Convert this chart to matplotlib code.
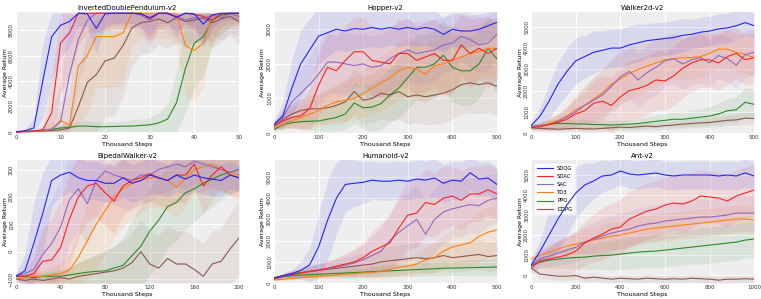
import numpy as np
import matplotlib
matplotlib.use('Agg')
import matplotlib.pyplot as plt

algos = ['SDQG', 'SDAC', 'SAC', 'TD3', 'PPO', 'DDPG']
colors = ['#2424f5', '#f52424', '#9467bd', '#ff7f0e', '#2a8a2a', '#8c564b']

# ---- InvertedDoublePendulum-v2 (x: 0..50) ----
idp_x = np.arange(0, 51, 2)
idp_mean = [
    [0, 80, 300, 4000, 7500, 8400, 8700, 9350, 9300, 8150, 9300, 9350, 9350, 9350, 9300, 9000, 9350, 9350, 9050, 9350, 9300, 8500, 9200, 9350, 9350, 9350],
    [0, 20, 50, 150, 1500, 7000, 7800, 9350, 9350, 9350, 9350, 9350, 9350, 9350, 9350, 8900, 9350, 9350, 9000, 9350, 9250, 9100, 8800, 9300, 9350, 9350],
    [0, 20, 60, 120, 200, 800, 4500, 7300, 8800, 9350, 9350, 9350, 9350, 9350, 9200, 8800, 9350, 9300, 9100, 8800, 9000, 8900, 9200, 9000, 9300, 9100],
    [0, 10, 30, 80, 200, 900, 500, 5200, 6000, 7500, 7500, 7500, 7800, 9350, 9350, 9350, 9350, 9350, 9300, 6800, 6400, 7000, 9100, 9300, 9350, 9350],
    [0, 30, 60, 100, 200, 300, 350, 450, 450, 400, 400, 420, 450, 450, 500, 550, 700, 1000, 2300, 5000, 7000, 7500, 8800, 9200, 9300, 9350],
    [0, 10, 30, 60, 100, 150, 300, 2000, 3900, 4500, 5600, 5800, 6800, 8200, 8600, 8700, 8900, 8600, 9000, 8700, 8800, 9000, 8600, 8900, 9100, 8700],
]
idp_sd = [
    [0, 100, 800, 3000, 3500, 2500, 2000, 1000, 1000, 2000, 1000, 800, 800, 800, 1000, 1500, 800, 800, 1200, 800, 1000, 1800, 1000, 600, 500, 500],
    [0, 50, 100, 300, 2500, 4000, 3500, 2500, 1500, 1500, 1200, 1000, 1000, 1000, 1200, 1800, 1200, 1000, 1500, 1000, 1200, 1500, 1800, 1000, 800, 800],
    [0, 50, 100, 300, 1500, 3000, 4500, 3500, 2500, 1500, 1500, 1200, 1200, 1200, 1500, 2000, 1200, 1500, 1800, 2000, 1800, 2000, 1500, 1800, 1500, 1500],
    [0, 50, 100, 200, 600, 1500, 2500, 4500, 4500, 4000, 4000, 4000, 4000, 2500, 2000, 2000, 2000, 2000, 2500, 4000, 4000, 3500, 2000, 1500, 1200, 1000],
    [0, 50, 80, 100, 200, 300, 300, 400, 400, 400, 400, 400, 400, 500, 500, 600, 800, 1200, 2500, 3500, 3500, 3000, 2000, 1500, 1000, 800],
    [0, 30, 50, 100, 150, 300, 500, 2500, 4000, 4500, 4500, 4500, 4000, 3000, 2500, 2500, 2000, 2000, 2000, 2000, 1800, 1800, 2000, 1800, 1500, 1800],
]

# ---- Hopper-v2 (x: 0..500) ----
hop_x = np.arange(0, 501, 20)
hop_mean = [
    [250, 500, 1300, 2000, 2400, 2800, 2900, 3000, 2950, 3020, 3000, 3050, 3000, 3050, 3000, 3050, 3000, 3050, 3000, 2850, 3000, 2950, 2950, 3000, 3100, 3200],
    [200, 350, 450, 500, 700, 1380, 1900, 1800, 2100, 2350, 2350, 2100, 2050, 2000, 2300, 2300, 2100, 2200, 2300, 2100, 2100, 2550, 2300, 2450, 2300, 2450],
    [250, 450, 900, 1150, 1400, 1700, 2050, 2050, 2000, 1950, 2000, 1900, 1950, 2150, 2300, 2400, 2300, 2350, 2400, 2550, 2600, 2800, 2700, 2550, 2600, 2850],
    [150, 250, 350, 450, 550, 650, 800, 900, 950, 1000, 1150, 1300, 1450, 1600, 1800, 1900, 1850, 1700, 1950, 2000, 2100, 2200, 2300, 2350, 2450, 2450],
    [100, 250, 300, 330, 340, 350, 400, 450, 550, 870, 730, 750, 850, 1100, 1300, 1600, 1900, 1900, 2000, 2250, 1900, 1800, 1800, 2000, 2450, 2150],
    [200, 400, 550, 650, 700, 700, 730, 800, 900, 1200, 950, 1000, 1150, 1100, 1200, 1050, 1100, 1050, 1100, 1150, 1250, 1400, 1450, 1400, 1450, 1350],
]
hop_sd = [
    [100, 400, 800, 1000, 900, 800, 700, 600, 600, 600, 550, 550, 550, 500, 500, 500, 500, 500, 550, 500, 500, 500, 450, 450, 400, 350],
    [100, 200, 300, 400, 600, 900, 1000, 1000, 1000, 1000, 1000, 1000, 1000, 1000, 1000, 1000, 1000, 1000, 1000, 1000, 1000, 900, 1000, 900, 1000, 900],
    [100, 250, 500, 700, 800, 900, 900, 900, 900, 900, 900, 900, 900, 900, 900, 900, 900, 900, 900, 800, 800, 700, 800, 800, 800, 700],
    [80, 150, 200, 300, 400, 450, 500, 550, 600, 650, 700, 750, 800, 800, 850, 850, 850, 850, 850, 850, 850, 850, 800, 800, 800, 800],
    [50, 100, 150, 200, 250, 300, 350, 400, 450, 600, 600, 700, 750, 800, 850, 900, 950, 950, 1000, 1000, 1000, 1000, 1000, 1000, 950, 1000],
    [100, 200, 300, 350, 400, 450, 500, 550, 600, 650, 700, 700, 750, 750, 800, 800, 800, 800, 850, 850, 850, 850, 850, 850, 850, 850],
]

# ---- Walker2d-v2 (x: 0..500) ----
wlk_x = np.arange(0, 501, 20)
wlk_mean = [
    [350, 800, 1500, 2300, 2900, 3400, 3600, 3800, 3900, 4000, 4000, 4150, 4250, 4350, 4400, 4450, 4500, 4600, 4650, 4750, 4800, 4900, 4950, 5050, 5200, 5050],
    [250, 300, 400, 500, 650, 900, 1050, 1400, 1500, 1300, 1700, 2000, 2100, 2250, 2500, 2450, 2700, 3050, 3300, 3450, 3450, 3300, 3600, 3750, 3450, 3550],
    [300, 350, 400, 550, 750, 1000, 1300, 1550, 1800, 2200, 2650, 2900, 2500, 2850, 3100, 3400, 3500, 3250, 3450, 3550, 3300, 3650, 3500, 3200, 3700, 3800],
    [300, 350, 450, 600, 800, 1100, 1300, 1600, 1900, 2300, 2550, 2800, 3000, 3150, 3300, 3450, 3500, 3550, 3550, 3600, 3750, 3950, 3950, 3800, 3700, 3550],
    [300, 350, 420, 450, 450, 430, 420, 400, 400, 380, 400, 420, 450, 500, 550, 600, 650, 650, 700, 750, 800, 900, 1050, 1100, 1450, 1350],
    [250, 220, 200, 180, 200, 220, 200, 190, 220, 250, 280, 260, 300, 330, 300, 350, 380, 420, 450, 480, 500, 550, 600, 620, 700, 680],
]
wlk_sd = [
    [100, 400, 800, 1000, 1100, 1100, 1000, 1000, 900, 900, 900, 900, 900, 800, 800, 800, 800, 800, 700, 700, 700, 700, 700, 700, 600, 600],
    [100, 150, 250, 350, 500, 700, 900, 1100, 1200, 1300, 1300, 1400, 1400, 1400, 1400, 1400, 1400, 1400, 1300, 1300, 1300, 1300, 1300, 1200, 1200, 1200],
    [100, 150, 250, 350, 500, 700, 900, 1100, 1200, 1200, 1300, 1300, 1300, 1300, 1300, 1200, 1200, 1200, 1200, 1200, 1100, 1100, 1100, 1100, 1100, 1100],
    [100, 150, 250, 350, 500, 700, 900, 1000, 1100, 1200, 1200, 1200, 1200, 1100, 1100, 1100, 1000, 1000, 1000, 1000, 900, 900, 900, 900, 900, 900],
    [100, 150, 200, 200, 200, 200, 200, 200, 200, 200, 200, 200, 250, 250, 300, 300, 350, 350, 400, 400, 450, 500, 550, 600, 700, 700],
    [100, 100, 100, 100, 100, 120, 120, 120, 130, 140, 150, 150, 160, 170, 170, 180, 190, 200, 210, 220, 230, 240, 250, 260, 280, 280],
]

# ---- BipedalWalker-v2 (x: 0..200) ----
bpw_x = np.arange(0, 201, 8)
bpw_mean = [
    [-90, -70, 30, 140, 260, 280, 290, 270, 260, 260, 250, 250, 270, 250, 260, 280, 270, 260, 280, 265, 280, 270, 265, 260, 280, 270],
    [-90, -90, -80, -35, -30, 15, 120, 200, 240, 250, 215, 185, 240, 260, 270, 285, 270, 260, 280, 280, 320, 240, 280, 310, 280, 270],
    [-90, -80, -65, -10, 30, 90, 190, 230, 175, 260, 295, 280, 270, 260, 280, 280, 300, 310, 320, 310, 330, 320, 310, 300, 290, 300],
    [-100, -95, -90, -90, -85, -80, -68, -20, 40, 100, 150, 200, 230, 250, 260, 270, 270, 260, 235, 270, 300, 310, 320, 300, 290, 280],
    [-90, -90, -95, -90, -90, -90, -85, -80, -75, -72, -70, -60, -50, -15, 20, 75, 115, 165, 180, 215, 230, 250, 265, 280, 290, 300],
    [-100, -105, -100, -105, -100, -95, -100, -90, -85, -80, -75, -70, -60, -40, 0, -45, -60, -25, -45, -45, -65, -90, -45, -35, 10, 50],
]
bpw_sd = [
    [10, 60, 150, 150, 90, 80, 70, 70, 70, 70, 70, 70, 70, 70, 70, 70, 60, 60, 60, 60, 60, 60, 60, 60, 50, 50],
    [10, 20, 60, 120, 150, 170, 170, 150, 130, 120, 120, 120, 110, 100, 100, 100, 100, 100, 100, 100, 90, 100, 90, 80, 80, 80],
    [10, 30, 80, 140, 160, 170, 160, 150, 150, 130, 110, 110, 110, 110, 100, 100, 90, 90, 80, 80, 80, 80, 80, 80, 80, 80],
    [10, 15, 20, 20, 30, 40, 60, 100, 140, 160, 160, 150, 140, 130, 120, 110, 110, 110, 110, 100, 90, 90, 80, 80, 80, 80],
    [10, 10, 15, 15, 20, 20, 30, 40, 50, 60, 70, 80, 100, 130, 150, 160, 160, 150, 140, 130, 120, 110, 100, 90, 80, 70],
    [10, 15, 20, 20, 25, 30, 40, 50, 60, 70, 80, 90, 100, 110, 120, 120, 120, 120, 120, 120, 120, 120, 120, 120, 130, 140],
]

# ---- Humanoid-v2 (x: 0..500) ----
hum_x = np.arange(0, 501, 20)
hum_mean = [
    [250, 350, 450, 600, 860, 1700, 2950, 4000, 4650, 4700, 4750, 4850, 4800, 4800, 4850, 4800, 4900, 4850, 4950, 4700, 4850, 4800, 5200, 4900, 4950, 4650],
    [200, 330, 400, 480, 550, 620, 700, 800, 900, 1000, 1200, 1500, 1700, 1900, 2600, 3200, 3300, 3800, 3700, 4000, 4100, 3900, 4200, 4200, 4400, 4200],
    [200, 320, 400, 470, 540, 600, 680, 760, 850, 950, 1100, 1300, 1500, 2000, 2400, 2700, 3000, 2300, 3000, 3350, 3500, 3600, 3700, 3650, 3900, 4000],
    [150, 180, 220, 260, 290, 320, 350, 380, 420, 450, 480, 500, 550, 650, 750, 800, 900, 1100, 1200, 1500, 1700, 1800, 1900, 2200, 2400, 2500],
    [200, 300, 350, 380, 400, 420, 440, 460, 480, 500, 520, 540, 560, 580, 600, 620, 640, 660, 680, 700, 710, 720, 730, 740, 750, 760],
    [250, 350, 450, 500, 560, 600, 650, 700, 750, 800, 850, 900, 1000, 1050, 1100, 1150, 1200, 1150, 1200, 1300, 1200, 1250, 1300, 1350, 1250, 1300],
]
hum_sd = [
    [50, 100, 200, 400, 800, 1500, 1900, 1700, 1300, 1100, 1000, 900, 900, 900, 900, 900, 900, 900, 900, 900, 900, 900, 800, 800, 800, 800],
    [50, 100, 150, 200, 250, 300, 350, 400, 500, 600, 700, 900, 1100, 1300, 1500, 1600, 1600, 1600, 1500, 1500, 1400, 1400, 1300, 1300, 1200, 1200],
    [50, 100, 150, 200, 250, 300, 350, 400, 500, 600, 700, 900, 1100, 1300, 1500, 1600, 1600, 1600, 1500, 1500, 1400, 1400, 1300, 1300, 1200, 1200],
    [50, 60, 70, 80, 90, 100, 120, 140, 160, 180, 200, 250, 300, 350, 400, 450, 500, 600, 700, 800, 900, 1000, 1100, 1200, 1200, 1300],
    [50, 80, 100, 120, 140, 160, 180, 200, 220, 240, 250, 260, 270, 280, 290, 300, 310, 320, 330, 340, 350, 360, 370, 380, 390, 400],
    [50, 100, 150, 200, 250, 300, 350, 400, 450, 500, 550, 600, 650, 700, 700, 700, 700, 700, 700, 700, 700, 700, 700, 700, 700, 700],
]

# ---- Ant-v2 (x: 0..1000) ----
ant_x = np.arange(0, 1001, 40)
ant_mean = [
    [500, 1200, 2000, 2800, 3500, 4100, 4500, 4700, 4950, 5000, 5200, 5050, 5000, 5050, 5100, 5000, 4950, 5000, 5000, 5000, 5000, 4950, 5000, 4950, 5100, 4950],
    [400, 700, 800, 900, 1000, 1200, 1600, 1850, 2050, 2300, 2400, 2800, 3000, 3200, 3300, 3500, 3600, 3550, 3700, 3950, 3900, 3850, 3700, 3950, 4100, 4250],
    [500, 800, 950, 1100, 1250, 1400, 1650, 1800, 1950, 2100, 2200, 2300, 2450, 2550, 2600, 2700, 2750, 2800, 2850, 2900, 2900, 2950, 3000, 3100, 3100, 3100],
    [800, 1000, 1150, 1300, 1450, 1550, 1650, 1750, 1850, 1950, 2000, 2100, 2200, 2300, 2350, 2400, 2450, 2500, 2550, 2600, 2650, 2700, 2750, 2800, 2800, 2750],
    [500, 650, 750, 800, 850, 880, 900, 950, 980, 1000, 1050, 1100, 1150, 1180, 1200, 1250, 1300, 1350, 1400, 1450, 1500, 1550, 1600, 1650, 1750, 1800],
    [350, 50, 0, -50, -50, -20, -150, -100, -150, -200, -150, -180, -200, -150, -180, -200, -180, -200, -150, -180, -200, -250, -200, -200, -180, -200],
]
ant_sd = [
    [200, 600, 1200, 1600, 1500, 1300, 1100, 900, 800, 700, 700, 700, 700, 700, 700, 700, 700, 700, 700, 700, 700, 700, 700, 700, 700, 700],
    [200, 400, 600, 800, 900, 1000, 1100, 1200, 1300, 1300, 1400, 1400, 1400, 1400, 1400, 1400, 1400, 1400, 1400, 1300, 1300, 1300, 1300, 1300, 1300, 1300],
    [200, 400, 500, 600, 700, 750, 800, 850, 900, 900, 900, 900, 900, 900, 900, 900, 900, 900, 900, 900, 900, 900, 900, 900, 900, 900],
    [200, 300, 400, 450, 500, 550, 600, 650, 700, 700, 700, 700, 700, 700, 700, 700, 700, 700, 700, 700, 700, 700, 700, 700, 700, 700],
    [200, 300, 400, 450, 500, 550, 600, 650, 700, 750, 750, 800, 800, 800, 850, 850, 850, 850, 850, 900, 900, 900, 900, 900, 900, 900],
    [200, 200, 200, 200, 200, 200, 200, 200, 200, 200, 200, 200, 200, 200, 200, 200, 200, 200, 200, 200, 200, 200, 200, 200, 200, 200],
]

panels = [
    ('InvertedDoublePendulum-v2', idp_x, idp_mean, idp_sd, (0, 50), (-100, 9450), [0, 2000, 4000, 6000, 8000], [0, 10, 20, 30, 40, 50]),
    ('Hopper-v2', hop_x, hop_mean, hop_sd, (0, 500), (0, 3500), [0, 1000, 2000, 3000], [0, 100, 200, 300, 400, 500]),
    ('Walker2d-v2', wlk_x, wlk_mean, wlk_sd, (0, 500), (0, 5700), [0, 1000, 2000, 3000, 4000, 5000], [0, 100, 200, 300, 400, 500]),
    ('BipedalWalker-v2', bpw_x, bpw_mean, bpw_sd, (0, 200), (-115, 335), [-100, 0, 100, 200, 300], [0, 40, 80, 120, 160, 200]),
    ('Humanoid-v2', hum_x, hum_mean, hum_sd, (0, 500), (0, 5800), [0, 1000, 2000, 3000, 4000, 5000], [0, 100, 200, 300, 400, 500]),
    ('Ant-v2', ant_x, ant_mean, ant_sd, (0, 1000), (-400, 5750), [0, 1000, 2000, 3000, 4000, 5000], [0, 200, 400, 600, 800, 1000]),
]

# axes boxes in figure fraction
lefts = [0.021, 0.360, 0.698]
width = 0.293
boxes = [(lefts[0], 0.555, width, 0.405), (lefts[1], 0.555, width, 0.405), (lefts[2], 0.555, width, 0.405),
         (lefts[0], 0.053, width, 0.412), (lefts[1], 0.053, width, 0.412), (lefts[2], 0.053, width, 0.412)]

fig = plt.figure(figsize=(7.61, 2.99), dpi=100)

for (title, x, means, sds, xlim, ylim, yt, xt), box in zip(panels, boxes):
    ax = fig.add_axes(box)
    ax.set_facecolor('#eeeeee')
    for s in ax.spines.values():
        s.set_visible(False)
    ax.grid(True, color='white', linewidth=0.8)
    ax.set_axisbelow(True)
    n = len(algos)
    for i in range(n - 1, -1, -1):
        m = np.array(means[i], dtype=float)
        sd = np.array(sds[i], dtype=float)
        lo, hi = m - sd, m + sd
        if title.startswith('Inverted'):
            hi = np.minimum(hi, 9360)
            lo = np.maximum(lo, 0)
        ax.fill_between(x, lo, hi, color=colors[i], alpha=0.1, linewidth=0, zorder=2)
    for i in range(n - 1, -1, -1):
        ax.plot(x, means[i], color=colors[i], linewidth=0.8, label=algos[i], zorder=3 + n - i)
    ax.set_xlim(*xlim)
    ax.set_ylim(*ylim)
    ax.set_xticks(xt)
    ax.set_yticks(yt)
    ax.tick_params(labelsize=4, length=0, pad=1.5, labelcolor='#333333')
    plt.setp(ax.get_yticklabels(), rotation=90, va='center')
    ax.set_title(title, fontsize=5, pad=1.5)
    ax.set_xlabel('Thousand Steps', fontsize=4.5, labelpad=1)
    ax.set_ylabel('Average Return', fontsize=4.5, labelpad=1)
    if title == 'Ant-v2':
        h, l = ax.get_legend_handles_labels()
        leg = ax.legend(h[::-1], l[::-1], loc='upper left', fontsize=3.8, frameon=True,
                        handlelength=3, borderpad=0.6, labelspacing=0.6, fancybox=True)
        leg.get_frame().set_facecolor('white')
        leg.get_frame().set_linewidth(0.3)

fig.savefig('out.png', dpi=100)
